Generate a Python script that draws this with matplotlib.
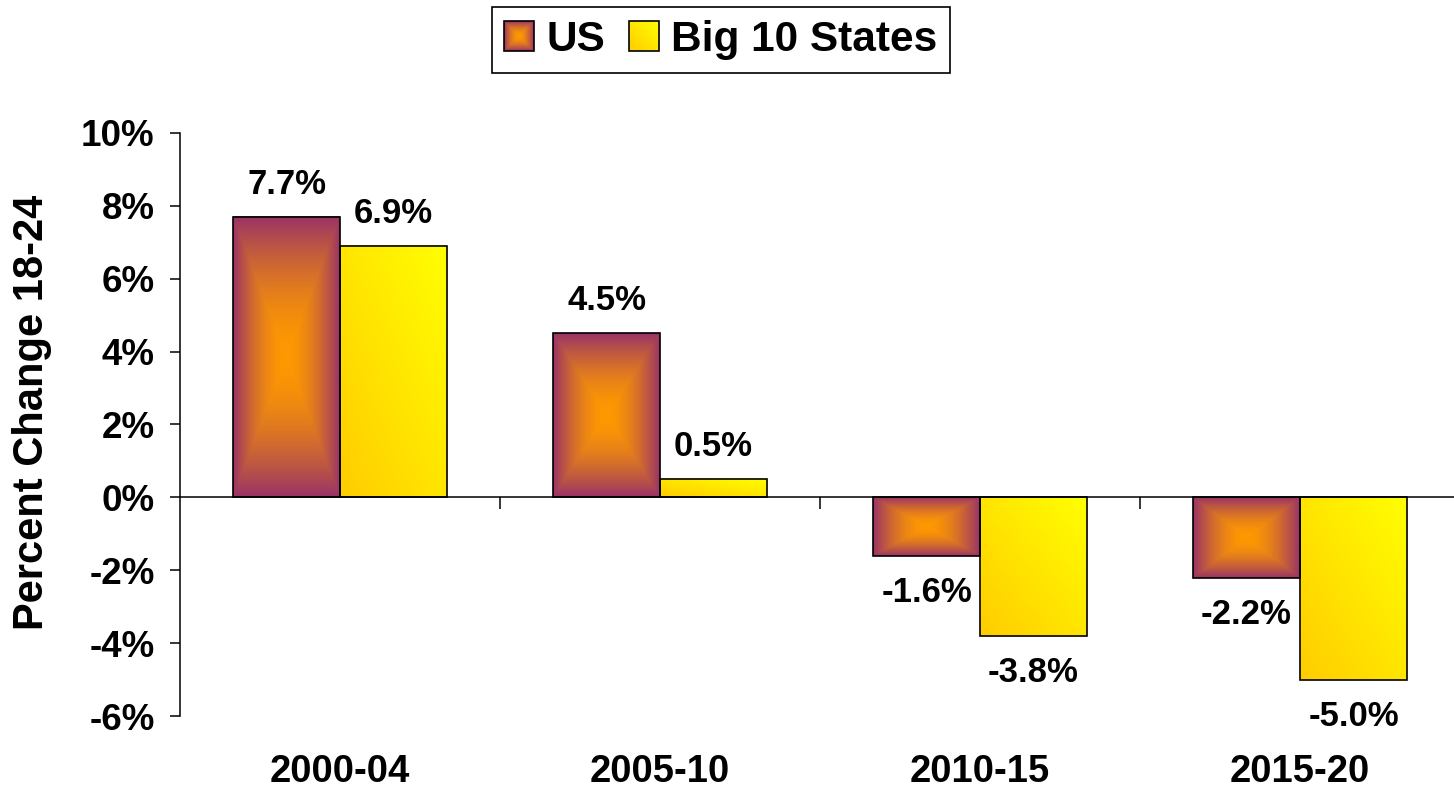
import numpy as np
import matplotlib
matplotlib.use('Agg')
import matplotlib.pyplot as plt
from matplotlib.legend_handler import HandlerBase
from matplotlib.image import BboxImage
from matplotlib.transforms import Bbox, TransformedBbox
from matplotlib.patches import Rectangle

periods = ['2000-04', '2005-10', '2010-15', '2015-20']
us = [7.7, 4.5, -1.6, -2.2]
big10 = [6.9, 0.5, -3.8, -5.0]
series_names = ['US', 'Big 10 States']

plt.rcParams['font.family'] = ['Liberation Sans', 'DejaVu Sans']
plt.rcParams['font.weight'] = 'bold'


def box_gradient(n=200):
    # "from center" fill: orange middle fading to maroon at every edge
    u = np.abs(np.linspace(-1, 1, n))
    t = np.maximum(u[None, :], u[:, None])[..., None] ** 1.7
    center = np.array([255, 153, 0]) / 255
    edge = np.array([153, 51, 102]) / 255
    return center * (1 - t) + edge * t


def diag_gradient(n=200):
    # gold at bottom-left to yellow at top-right (origin lower)
    u = np.linspace(0, 1, n)
    t = ((u[None, :] + u[:, None]) / 2)[..., None]
    low = np.array([255, 204, 0]) / 255
    high = np.array([255, 255, 0]) / 255
    return low * (1 - t) + high * t


class GradientHandler(HandlerBase):
    def __init__(self, img):
        super().__init__()
        self.img = img

    def create_artists(self, legend, orig_handle, xdescent, ydescent,
                       width, height, fontsize, trans):
        bb = TransformedBbox(Bbox.from_bounds(-xdescent, -ydescent, width, height), trans)
        im = BboxImage(bb, origin='lower', interpolation='bilinear')
        im.set_data(self.img)
        frame = Rectangle((-xdescent, -ydescent), width, height, facecolor='none',
                          edgecolor='black', lw=1.2, transform=trans)
        return [im, frame]


fig = plt.figure(figsize=(14.54, 7.91), dpi=100)
ax = fig.add_axes([180 / 1454, 1 - 716 / 791, 1280 / 1454, 583 / 791])

x = np.arange(len(periods))
w = 0.334
grads = [box_gradient(), diag_gradient()]
for i, vals in enumerate([us, big10]):
    bars = ax.bar(x + (i - 0.5) * w, vals, w, facecolor='none', edgecolor='black',
                  linewidth=1.2, zorder=3)
    for b, v in zip(bars, vals):
        bx, by, bw, bh = b.get_x(), b.get_y(), b.get_width(), b.get_height()
        ax.imshow(grads[i], extent=[bx, bx + bw, min(by, by + bh), max(by, by + bh)],
                  origin='lower', aspect='auto', interpolation='bilinear', zorder=2)
        off = 11.5 if v >= 0 else -14.4
        ax.annotate(f'{v:.1f}%', (bx + bw / 2, v), xytext=(0, off), textcoords='offset points',
                    ha='center', va='bottom' if v >= 0 else 'top', fontsize=25, fontweight='bold')

ax.set_xlim(-0.5, 3.5)
ax.set_ylim(-6, 10)
ax.set_yticks(np.arange(-6, 11, 2))
ax.set_yticklabels([f'{t}%' for t in range(-6, 11, 2)], fontsize=26.5, fontweight='bold')
ax.tick_params(axis='y', length=7.2, width=1.1, pad=11)

for s in ['top', 'right']:
    ax.spines[s].set_visible(False)
ax.spines['left'].set_linewidth(1.1)
ax.spines['bottom'].set_position(('data', 0))
ax.spines['bottom'].set_linewidth(1.1)
ax.set_xticks(x[1:] - 0.5)
ax.set_xticklabels([])
ax.tick_params(axis='x', length=8.6, width=1.1)
for xi, p in zip(x, periods):
    ax.text(xi, -0.096, p, transform=ax.get_xaxis_transform(), ha='center', va='center',
            fontsize=27.5, fontweight='bold')

ax.set_ylabel('Percent Change 18-24', fontsize=30, fontweight='bold')
ax.yaxis.set_label_coords(-0.1, 0.52)

h_us = Rectangle((0, 0), 1, 1)
h_b10 = Rectangle((0, 0), 1, 1)
leg = fig.legend([h_us, h_b10], series_names,
                 handler_map={h_us: GradientHandler(box_gradient(60)),
                              h_b10: GradientHandler(diag_gradient(60))},
                 loc='center', bbox_to_anchor=(721 / 1454, 1 - 40 / 791), ncol=2,
                 fancybox=False, edgecolor='black', framealpha=1,
                 handlelength=0.7, handleheight=0.7, handletextpad=0.3,
                 columnspacing=0.55, borderpad=0.3,
                 prop=dict(weight='bold', size=30.5))
leg.get_frame().set_linewidth(1.2)

fig.savefig('out.png', dpi=100)
